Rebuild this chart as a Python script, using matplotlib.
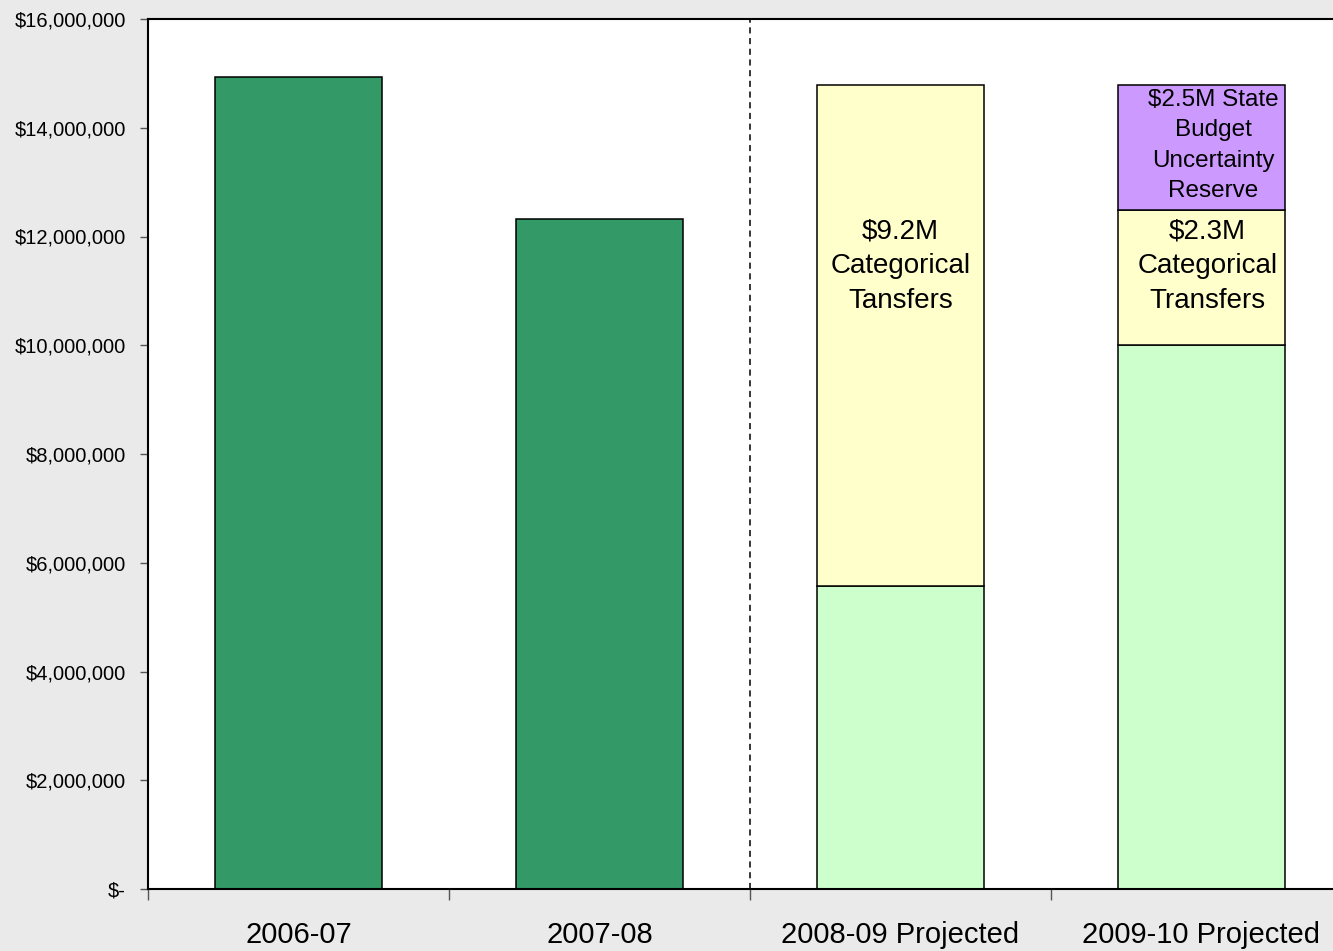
import matplotlib.pyplot as plt
from matplotlib.ticker import FuncFormatter, FixedLocator

plt.rcParams['font.family'] = ['Liberation Sans', 'DejaVu Sans']

years = ['2006-07', '2007-08', '2008-09 Projected', '2009-10 Projected']
base = [14.93e6, 12.32e6, 5.57e6, 10.0e6]
categorical = [0, 0, 9.22e6, 2.49e6]
reserve = [0, 0, 0, 2.30e6]
base_colors = ['#339966', '#339966', '#CCFFCC', '#CCFFCC']

fig = plt.figure(figsize=(13.33, 9.51), dpi=100)
fig.patch.set_facecolor('#EAEAEA')
ax = fig.add_axes([148 / 1333, 62 / 951, 1204 / 1333, 870 / 951])
ax.set_facecolor('white')

x = list(range(len(years)))
w = 0.555
ax.bar(x, base, width=w, color=base_colors, edgecolor='black', linewidth=1.1)

cat_x = [i for i in x if categorical[i] > 0]
ax.bar(cat_x, [categorical[i] for i in cat_x], bottom=[base[i] for i in cat_x],
       width=w, color='#FFFFCC', edgecolor='black', linewidth=1.1)

res_x = [i for i in x if reserve[i] > 0]
ax.bar(res_x, [reserve[i] for i in res_x],
       bottom=[base[i] + categorical[i] for i in res_x],
       width=w, color='#CC99FF', edgecolor='black', linewidth=1.1)

ax.axvline(1.5, color='black', linestyle=(0, (4, 3)), linewidth=1.1)

# segment labels
ax.text(2, 11.45e6, '$9.2M\nCategorical\nTansfers', ha='center', va='center',
        fontsize=20, linespacing=1.45)
ax.text(3.02, 11.45e6, '$2.3M\nCategorical\nTransfers', ha='center', va='center',
        fontsize=20, linespacing=1.45)
ax.text(3.04, 13.67e6, '$2.5M State\nBudget\nUncertainty\nReserve', ha='center',
        va='center', fontsize=17.5, linespacing=1.5)

ax.set_xlim(-0.5, 3.5)
ax.set_ylim(0, 16e6)
ax.set_yticks(range(0, 16000001, 2000000))
ax.yaxis.set_major_formatter(FuncFormatter(lambda v, p: '$-' if v == 0 else f'${v:,.0f}'))
ax.tick_params(axis='y', labelsize=14.5, length=6, width=1, color='#555555', pad=10)

ax.set_xticks(x)
ax.set_xticklabels(years)
ax.xaxis.set_minor_locator(FixedLocator([-0.5, 0.5, 1.5, 2.5]))
ax.tick_params(axis='x', which='major', labelsize=21, length=0, pad=23)
ax.tick_params(axis='x', which='minor', length=8, width=1, color='#555555')

for s in ['left', 'bottom', 'top']:
    ax.spines[s].set_linewidth(1.5)
ax.spines['right'].set_visible(False)

fig.savefig('out.png', dpi=100, facecolor=fig.get_facecolor())
